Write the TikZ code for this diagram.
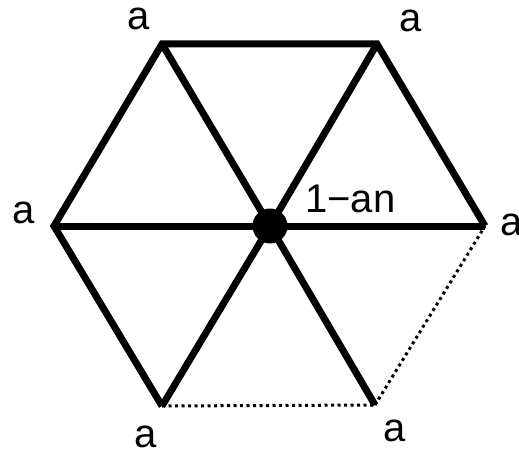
\documentclass[tikz,border=0pt]{standalone}
\usepackage{fontspec}
\setmainfont{Liberation Sans}
\begin{document}
\begin{tikzpicture}[x=1pt,y=-1pt,
  edge/.style={line width=7pt, line join=miter},
  dotline/.style={line width=3pt, dash pattern=on 3pt off 3.5pt},
  lbl/.style={inner sep=0pt, anchor=base, font=\fontsize{40}{40}\selectfont}]
\useasboundingbox (0,0) rectangle (519,452);
\coordinate (TL) at (162,44);
\coordinate (TR) at (377,44);
\coordinate (R) at (485,226);
\coordinate (BR) at (375,405);
\coordinate (BL) at (162,406);
\coordinate (L) at (54,226);
\coordinate (C) at (270,226);
\draw[edge] (BL) -- (L) -- (TL) -- (TR) -- (R);
\draw[dotline] (BL) -- (BR);
\draw[dotline] (BR) -- (R);
\draw[edge] (L) -- (C) -- (R);
\draw[edge] (TL) -- (C) -- (BR);
\draw[edge] (TR) -- (C) -- (BL);
\node[circle, fill=black, minimum size=35pt, inner sep=0pt] (dot) at (C) {};
\node[lbl] (aTL) at (139,30) {a};
\node[lbl] (aTR) at (411,32) {a};
\node[lbl] (aL) at (24,223) {a};
\node[lbl, anchor=base west] (aR) at (500,235) {a};
\node[lbl] (aBL) at (146,447) {a};
\node[lbl] (aBR) at (395,441) {a};
\node[lbl, anchor=base west] (one) at (305,212) {1−an};
\end{tikzpicture}
\end{document}
